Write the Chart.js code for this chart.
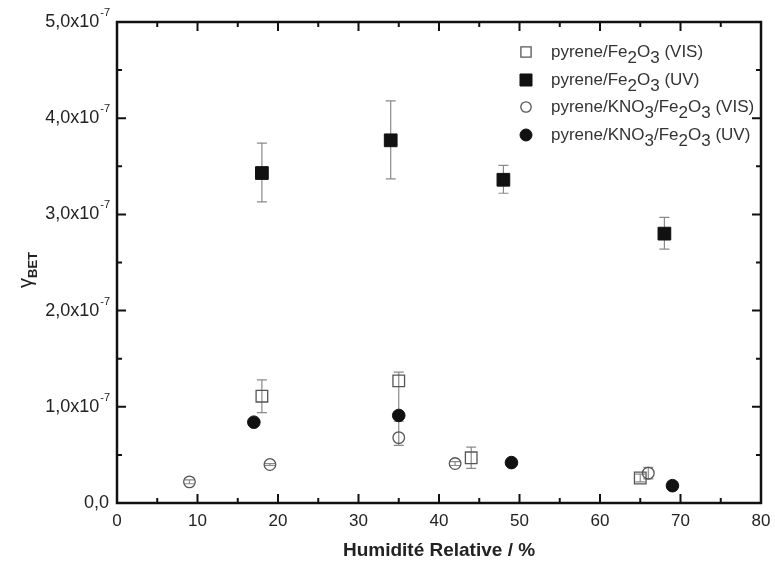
<!DOCTYPE html>
<html>
<head>
<meta charset="utf-8">
<script src="https://cdn.jsdelivr.net/npm/chart.js@4.4.1/dist/chart.umd.min.js"></script>
<style>
  body { margin: 0; background: #fff; }
  #wrap { width: 775px; height: 568px; }
</style>
</head>
<body>
<div id="wrap"><canvas id="chart" width="775" height="568"></canvas></div>
<script>
// values in units of 1e-7
const yExp = "-7"
const xTicks = [0, 10, 20, 30, 40, 50, 60, 70, 80]
const yTicks = [0, 1, 2, 3, 4, 5]

const legendLabels = [
  "pyrene/Fe_2O_3 (VIS)",
  "pyrene/Fe_2O_3 (UV)",
  "pyrene/KNO_3/Fe_2O_3 (VIS)",
  "pyrene/KNO_3/Fe_2O_3 (UV)"
]

const visFeX = [18, 35, 44, 65]
const visFeY = [1.11, 1.27, 0.47, 0.26]
const visFeLo = [0.94, 0.95, 0.36, 0.22]
const visFeHi = [1.28, 1.36, 0.58, 0.30]

const uvFeX = [18, 34, 48, 68]
const uvFeY = [3.43, 3.77, 3.36, 2.80]
const uvFeLo = [3.13, 3.37, 3.22, 2.64]
const uvFeHi = [3.74, 4.18, 3.51, 2.97]

const visKnoX = [9, 19, 35, 42, 66]
const visKnoY = [0.22, 0.40, 0.68, 0.41, 0.31]
const visKnoLo = [0.20, 0.39, 0.60, 0.39, 0.25]
const visKnoHi = [0.24, 0.41, 0.85, 0.43, 0.37]

const uvKnoX = [17, 35, 49, 69]
const uvKnoY = [0.84, 0.91, 0.42, 0.18]

const font = "'Liberation Sans', Arial, sans-serif"
const ink = "#222"
const errColor = "#8a8a8a"

function pts(xs, ys) {
  return xs.map((x, i) => ({ x: x, y: ys[i] }))
}

// text with _d subscripts
function drawRich(ctx, str, x, y, size) {
  const parts = str.split(/(_\d)/)
  let cx = x
  ctx.font = size + "px " + font
  parts.forEach(p => {
    if (!p) return
    const t = p[0] === "_" ? p[1] : p
    ctx.fillText(t, cx, p[0] === "_" ? y + size * 0.38 : y)
    cx += ctx.measureText(t).width
  })
}

const errorBars = {
  id: "errorBars",
  beforeDatasetsDraw(chart) {
    const ctx = chart.ctx
    const xs = chart.scales.x, ys = chart.scales.y
    ctx.save()
    ctx.strokeStyle = errColor
    ctx.lineWidth = 1.2
    chart.data.datasets.forEach(ds => {
      if (!ds.errLo) return
      ds.data.forEach((p, i) => {
        const px = xs.getPixelForValue(p.x)
        const y1 = ys.getPixelForValue(ds.errLo[i])
        const y2 = ys.getPixelForValue(ds.errHi[i])
        ctx.beginPath()
        ctx.moveTo(px, y1); ctx.lineTo(px, y2)
        ctx.moveTo(px - 5, y1); ctx.lineTo(px + 5, y1)
        ctx.moveTo(px - 5, y2); ctx.lineTo(px + 5, y2)
        ctx.stroke()
      })
    })
    ctx.restore()
  }
}

const frame = {
  id: "frame",
  afterDraw(chart) {
    const ctx = chart.ctx
    const a = chart.chartArea
    const xs = chart.scales.x, ys = chart.scales.y
    ctx.save()
    ctx.strokeStyle = "#111"
    ctx.lineWidth = 2.5
    ctx.strokeRect(a.left, a.top, a.right - a.left, a.bottom - a.top)

    // inward ticks on all sides
    ctx.lineWidth = 2
    ctx.beginPath()
    for (let v = 5; v < 80; v += 5) {
      const px = xs.getPixelForValue(v)
      const len = v % 10 === 0 ? 9 : 5
      ctx.moveTo(px, a.bottom); ctx.lineTo(px, a.bottom - len)
      ctx.moveTo(px, a.top); ctx.lineTo(px, a.top + len)
    }
    for (let v = 0.5; v < 5; v += 0.5) {
      const py = ys.getPixelForValue(v)
      const len = Math.abs(v - Math.round(v)) < 0.01 ? 9 : 5
      ctx.moveTo(a.left, py); ctx.lineTo(a.left + len, py)
      ctx.moveTo(a.right, py); ctx.lineTo(a.right - len, py)
    }
    ctx.stroke()

    // y tick labels with exponent
    ctx.fillStyle = ink
    ctx.textBaseline = "middle"
    yTicks.forEach(v => {
      const py = ys.getPixelForValue(v)
      const main = v.toFixed(1).replace(".", ",")
      if (v === 0) {
        ctx.font = "18px " + font
        ctx.textAlign = "right"
        ctx.fillText(main, a.left - 8, py)
      } else {
        ctx.font = "11px " + font
        ctx.textAlign = "right"
        ctx.fillText(yExp, a.left - 7, py - 9)
        const ew = ctx.measureText(yExp).width
        ctx.font = "18px " + font
        ctx.fillText(main + "x10", a.left - 8 - ew, py)
      }
    })

    // y title: gamma_BET rotated
    ctx.translate(32, 270)
    ctx.rotate(-Math.PI / 2)
    ctx.textAlign = "left"
    ctx.textBaseline = "alphabetic"
    ctx.font = "20px " + font
    const gw = ctx.measureText("\u03b3").width
    ctx.font = "bold 13px " + font
    const bw = ctx.measureText("BET").width
    const start = -(gw + bw) / 2
    ctx.font = "20px " + font
    ctx.fillText("\u03b3", start, 0)
    ctx.font = "bold 13px " + font
    ctx.fillText("BET", start + gw, 5)
    ctx.restore()

    // legend
    ctx.save()
    ctx.fillStyle = "#333"
    ctx.textBaseline = "alphabetic"
    ctx.textAlign = "left"
    const rows = [52, 80, 107, 135]
    chart.data.datasets.forEach((ds, i) => {
      const opts = {
        pointStyle: ds.pointStyle,
        radius: ds.legendRadius,
        borderWidth: ds.borderWidth
      }
      ctx.save()
      ctx.fillStyle = ds.backgroundColor
      ctx.strokeStyle = ds.borderColor
      ctx.lineWidth = ds.borderWidth
      Chart.helpers.drawPoint(ctx, opts, 526, rows[i])
      ctx.restore()
      drawRich(ctx, legendLabels[i], 551, rows[i] + 5, 17)
    })
    ctx.restore()
  }
}

const datasets = [
  {
    label: legendLabels[0],
    data: pts(visFeX, visFeY),
    errLo: visFeLo, errHi: visFeHi,
    pointStyle: "rect",
    pointRadius: 8.2,
    legendRadius: 7.2,
    backgroundColor: "rgba(0,0,0,0)",
    borderColor: "#555",
    borderWidth: 1.3
  },
  {
    label: legendLabels[1],
    data: pts(uvFeX, uvFeY),
    errLo: uvFeLo, errHi: uvFeHi,
    pointStyle: "rect",
    pointRadius: 9,
    legendRadius: 8.5,
    backgroundColor: "#111",
    borderColor: "#111",
    borderWidth: 1
  },
  {
    label: legendLabels[2],
    data: pts(visKnoX, visKnoY),
    errLo: visKnoLo, errHi: visKnoHi,
    pointStyle: "circle",
    pointRadius: 5.8,
    legendRadius: 5.2,
    backgroundColor: "rgba(0,0,0,0)",
    borderColor: "#555",
    borderWidth: 1.3
  },
  {
    label: legendLabels[3],
    data: pts(uvKnoX, uvKnoY),
    pointStyle: "circle",
    pointRadius: 6.3,
    legendRadius: 6,
    backgroundColor: "#111",
    borderColor: "#111",
    borderWidth: 1
  }
]

new Chart(document.getElementById("chart"), {
  type: "scatter",
  data: { datasets: datasets },
  options: {
    responsive: false,
    devicePixelRatio: 1,
    animation: false,
    layout: { padding: { top: 22, right: 14, left: 0, bottom: 0 } },
    plugins: { legend: { display: false }, tooltip: { enabled: false } },
    elements: { point: { hoverRadius: 0 } },
    scales: {
      x: {
        type: "linear",
        min: 0, max: 80,
        afterBuildTicks: s => { s.ticks = xTicks.map(v => ({ value: v })) },
        afterFit: s => { s.height = 65; s.paddingLeft = 0; s.paddingRight = 0 },
        grid: { display: false, drawTicks: false },
        border: { display: false },
        ticks: { color: ink, padding: 8, font: { size: 17, family: font } },
        title: {
          display: true,
          text: "Humidité Relative / %",
          color: ink,
          padding: { top: 0, bottom: 6 },
          font: { size: 19, weight: "bold", family: font }
        }
      },
      y: {
        type: "linear",
        min: 0, max: 5,
        afterFit: s => { s.width = 117; s.paddingTop = 0; s.paddingBottom = 0 },
        grid: { display: false, drawTicks: false },
        border: { display: false },
        ticks: { display: false }
      }
    }
  },
  plugins: [errorBars, frame]
})
</script>
</body>
</html>
